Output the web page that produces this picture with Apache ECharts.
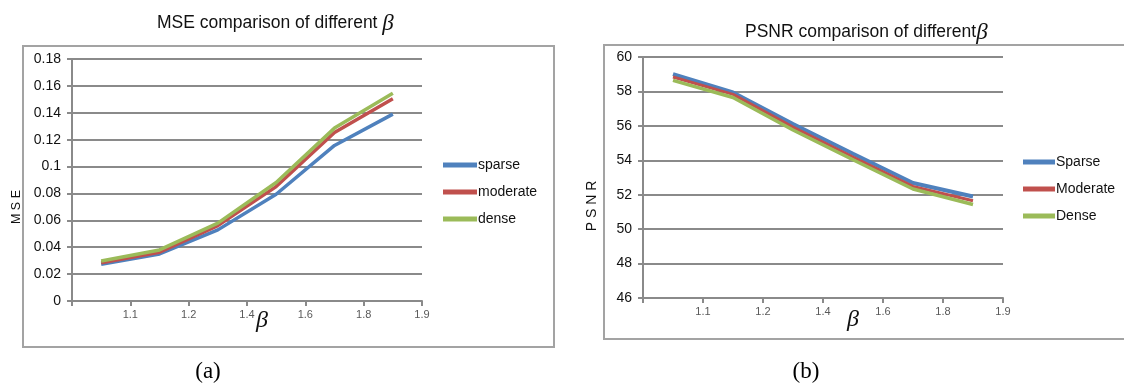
<!DOCTYPE html>
<html>
<head>
<meta charset="utf-8">
<script src="https://cdn.jsdelivr.net/npm/echarts@6/dist/echarts.min.js"></script>
<style>
  html, body { margin: 0; background: #fff; }
  #chart { width: 1124px; height: 387px; }
</style>
</head>
<body>
<div id="chart"></div>
<script>
// beta tick labels (Excel-style: labels sit on the band boundaries)
const betaLabels = ['1.1', '1.2', '1.4', '1.6', '1.8', '1.9']

// (a) MSE
const mseNames = ['sparse', 'moderate', 'dense']
const mseSparse = [0.0273, 0.0350, 0.0529, 0.0794, 0.1157, 0.1390]
const mseModerate = [0.0285, 0.0363, 0.0561, 0.0851, 0.1253, 0.1504]
const mseDense = [0.0298, 0.0380, 0.0579, 0.0881, 0.1286, 0.1546]

// (b) PSNR
const psnrNames = ['Sparse', 'Moderate', 'Dense']
const psnrSparse = [59.01, 57.94, 56.11, 54.38, 52.68, 51.90]
const psnrModerate = [58.84, 57.83, 55.93, 54.19, 52.48, 51.65]
const psnrDense = [58.64, 57.65, 55.76, 54.03, 52.33, 51.43]

const colors = ['#4F81BD', '#C0504D', '#9BBB59']
const gridColor = '#8a8a8a'
const sans = 'Liberation Sans, Arial, sans-serif'
const serif = 'Liberation Serif, Times New Roman, serif'

function dataAxis(gridIndex) {
  return { type: 'category', gridIndex, position: 'bottom', data: betaLabels, boundaryGap: true, show: false }
}

function tickAxis(gridIndex) {
  return {
    type: 'value',
    gridIndex,
    position: 'bottom',
    min: 0,
    max: 6,
    interval: 1,
    axisLine: { show: true, lineStyle: { color: gridColor, width: 2 } },
    axisTick: { show: true, length: 5, lineStyle: { color: gridColor, width: 2 } },
    splitLine: { show: false },
    axisLabel: {
      fontFamily: sans,
      fontSize: 11,
      color: '#595959',
      margin: 8,
      formatter: v => (v === 0 ? '' : betaLabels[v - 1])
    }
  }
}

function valueAxis(gridIndex, min, max, interval) {
  return {
    type: 'value',
    gridIndex,
    min,
    max,
    interval,
    axisLine: { show: true, lineStyle: { color: gridColor, width: 2 } },
    axisTick: { show: true, length: 5, lineStyle: { color: gridColor, width: 2 } },
    splitLine: { show: true, lineStyle: { color: gridColor, width: 2 } },
    axisLabel: { fontFamily: sans, fontSize: 14, color: '#111', margin: 11 }
  }
}

function lineSeries(name, data, color, xAxisIndex, yAxisIndex, width) {
  return {
    name,
    type: 'line',
    xAxisIndex,
    yAxisIndex,
    data,
    symbol: 'none',
    color,
    lineStyle: { color, width }
  }
}

const titleRich = {
  t: { fontFamily: sans, fontSize: 17.5, fontWeight: 'normal', color: '#111' },
  b: { fontFamily: serif, fontStyle: 'italic', fontWeight: 'normal', fontSize: 23, color: '#111' }
}

const chart = echarts.init(document.getElementById('chart'))

chart.setOption({
  animation: false,
  backgroundColor: '#fff',
  title: [
    {
      text: '{t|MSE comparison of different }{b|β}',
      left: 152,
      top: 7,
      textStyle: { fontWeight: 'normal', rich: titleRich }
    },
    {
      text: '{t|PSNR comparison of different}{b|β}',
      left: 740,
      top: 16,
      textStyle: { fontWeight: 'normal', rich: titleRich }
    }
  ],
  legend: [
    {
      data: mseNames,
      orient: 'vertical',
      left: 443,
      top: 158,
      icon: 'rect',
      itemWidth: 34,
      itemHeight: 5,
      itemGap: 13,
      padding: 0,
      textStyle: { fontFamily: sans, fontSize: 14, color: '#111', padding: [0, 0, 0, -4] }
    },
    {
      data: psnrNames,
      orient: 'vertical',
      left: 1023,
      top: 155,
      icon: 'rect',
      itemWidth: 32,
      itemHeight: 5,
      itemGap: 13,
      padding: 0,
      textStyle: { fontFamily: sans, fontSize: 14, color: '#111', padding: [0, 0, 0, -4] }
    }
  ],
  grid: [
    { left: 72, right: 702, top: 59, bottom: 86 },
    { left: 643, right: 121, top: 57, bottom: 89 }
  ],
  xAxis: [dataAxis(0), tickAxis(0), dataAxis(1), tickAxis(1)],
  yAxis: [valueAxis(0, 0, 0.18, 0.02), valueAxis(1, 46, 60, 2)],
  series: [
    lineSeries(mseNames[0], mseSparse, colors[0], 0, 0, 3.5),
    lineSeries(mseNames[1], mseModerate, colors[1], 0, 0, 3.5),
    lineSeries(mseNames[2], mseDense, colors[2], 0, 0, 3.5),
    lineSeries(psnrNames[0], psnrSparse, colors[0], 2, 1, 4),
    lineSeries(psnrNames[1], psnrModerate, colors[1], 2, 1, 3),
    lineSeries(psnrNames[2], psnrDense, colors[2], 2, 1, 3.5)
  ],
  graphic: [
    // chart frames
    { type: 'rect', shape: { x: 23, y: 46, width: 531, height: 301 }, style: { fill: 'none', stroke: '#a3a3a3', lineWidth: 2 }, z: -1 },
    { type: 'rect', shape: { x: 604, y: 45, width: 540, height: 294 }, style: { fill: 'none', stroke: '#a3a3a3', lineWidth: 2 }, z: -1 },
    // y names
    { type: 'text', x: 17, y: 207, rotation: Math.PI / 2, style: { text: 'M S E', fontFamily: sans, fontSize: 12.5, fill: '#111', align: 'center', verticalAlign: 'middle' } },
    { type: 'text', x: 592, y: 206, rotation: Math.PI / 2, style: { text: 'P S N R', fontFamily: sans, fontSize: 14, fill: '#111', align: 'center', verticalAlign: 'middle' } },
    // beta axis names
    { type: 'text', x: 262, y: 321, style: { text: 'β', fontFamily: serif, fontStyle: 'italic', fontSize: 24, fill: '#111', align: 'center', verticalAlign: 'middle' } },
    { type: 'text', x: 853, y: 320, style: { text: 'β', fontFamily: serif, fontStyle: 'italic', fontSize: 24, fill: '#111', align: 'center', verticalAlign: 'middle' } },
    // panel captions
    { type: 'text', x: 208, y: 372, style: { text: '(a)', fontFamily: serif, fontSize: 23, fill: '#000', align: 'center', verticalAlign: 'middle' } },
    { type: 'text', x: 806, y: 372, style: { text: '(b)', fontFamily: serif, fontSize: 23, fill: '#000', align: 'center', verticalAlign: 'middle' } }
  ]
})
</script>
</body>
</html>
